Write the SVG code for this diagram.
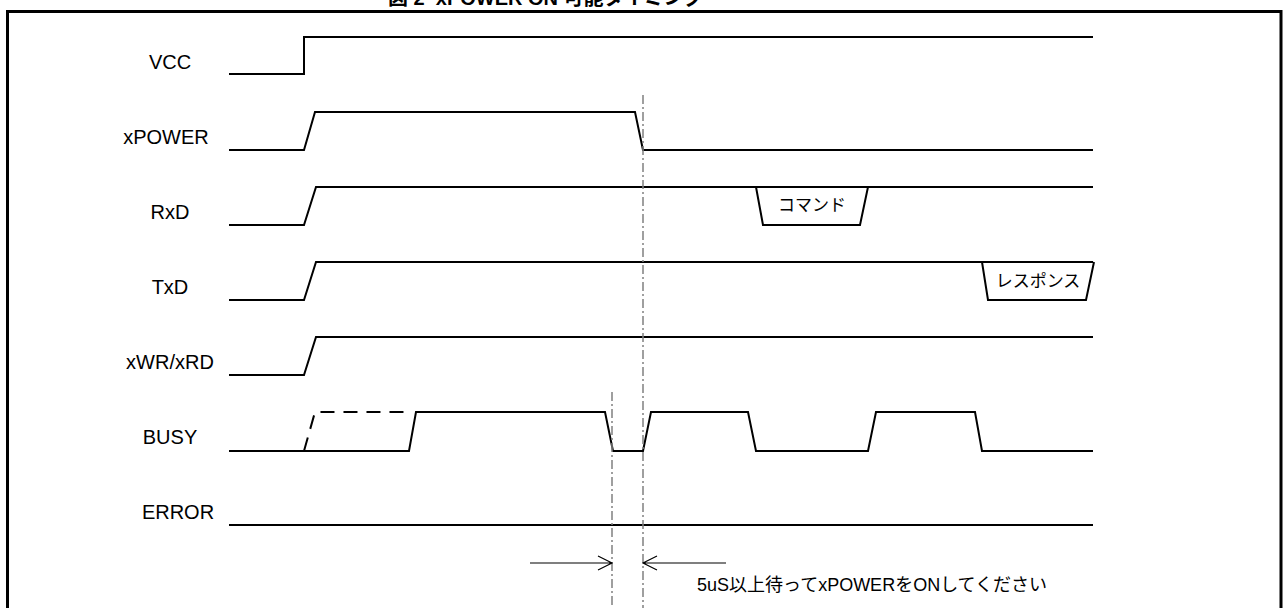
<svg xmlns="http://www.w3.org/2000/svg" width="1288" height="608" viewBox="0 0 1288 608">
<style>
.w{fill:none;stroke:#000;stroke-width:2;stroke-linejoin:miter}
.dash{fill:none;stroke:#000;stroke-width:2;stroke-dasharray:14,9}
.dd{fill:none;stroke:#808080;stroke-width:1.5;stroke-dasharray:9,3,2,3}
.lbl{font-family:"Liberation Sans","Noto Sans CJK JP",sans-serif;font-size:20px;fill:#000;text-anchor:middle}
.jp{font-family:"Liberation Sans","Noto Sans CJK JP",sans-serif;font-size:17px;fill:#000;text-anchor:middle}
.dim{fill:none;stroke:#000;stroke-width:1.2}
</style>
<rect width="1288" height="608" fill="#fff"/>
<text x="388" y="5" font-family="'Liberation Sans','Noto Sans CJK JP',sans-serif" font-size="20" font-weight="bold" xml:space="preserve">図 2  xPOWER ON 可能タイミング</text>
<path d="M7.5,612 V11.5 H1281 V612" fill="none" stroke="#000" stroke-width="3"/>
<g id="sig-vcc"><text class="lbl" x="170" y="69">VCC</text><path class="w" d="M229,74 H304 V37 H1093"/></g>
<g id="sig-xpower"><text class="lbl" x="166" y="144">xPOWER</text><path class="w" d="M229,150 H304 L315,112 H635 L643,150 H1093"/></g>
<g id="sig-rxd"><text class="lbl" x="170" y="219">RxD</text><path class="w" d="M229,225 H304 L316,187 H1093"/><path class="w" d="M756,187 L763,225 H860 L868,187"/><text class="jp" x="812" y="211">コマンド</text></g>
<g id="sig-txd"><text class="lbl" x="170" y="294">TxD</text><path class="w" d="M229,300 H304 L316,262 H1093"/><path class="w" d="M982,262 L988,300 H1086 L1094,262"/><text class="jp" x="1038" y="287" font-size="18">レスポンス</text></g>
<g id="sig-xwr"><text class="lbl" x="170" y="369">xWR/xRD</text><path class="w" d="M229,375 H304 L316,337 H1093"/></g>
<g id="sig-busy"><text class="lbl" x="170" y="444">BUSY</text><path class="w" d="M229,451 H409 L416,412 H605 L613,451 H643 L651,412 H748 L756,451 H868 L876,412 H975 L982,451 H1093"/><path class="dash" d="M304,451 L315,412 H409"/></g>
<g id="sig-error"><text class="lbl" x="178" y="519">ERROR</text><path class="w" d="M229,525 H1093"/></g>
<g id="connectors">
<path class="dd" d="M643,95 V608"/>
<path class="dd" d="M612,392 V608"/>
<path class="dim" d="M530,563 H612 M598,556 L612,563 L598,570"/>
<path class="dim" d="M726,563 H643 M657,556 L643,563 L657,570"/>
</g>
<g id="note"><text x="697" y="591" font-family="'Liberation Sans','Noto Sans CJK JP',sans-serif" font-size="18" fill="#000">5uS以上待ってxPOWERをONしてください</text></g>
</svg>
